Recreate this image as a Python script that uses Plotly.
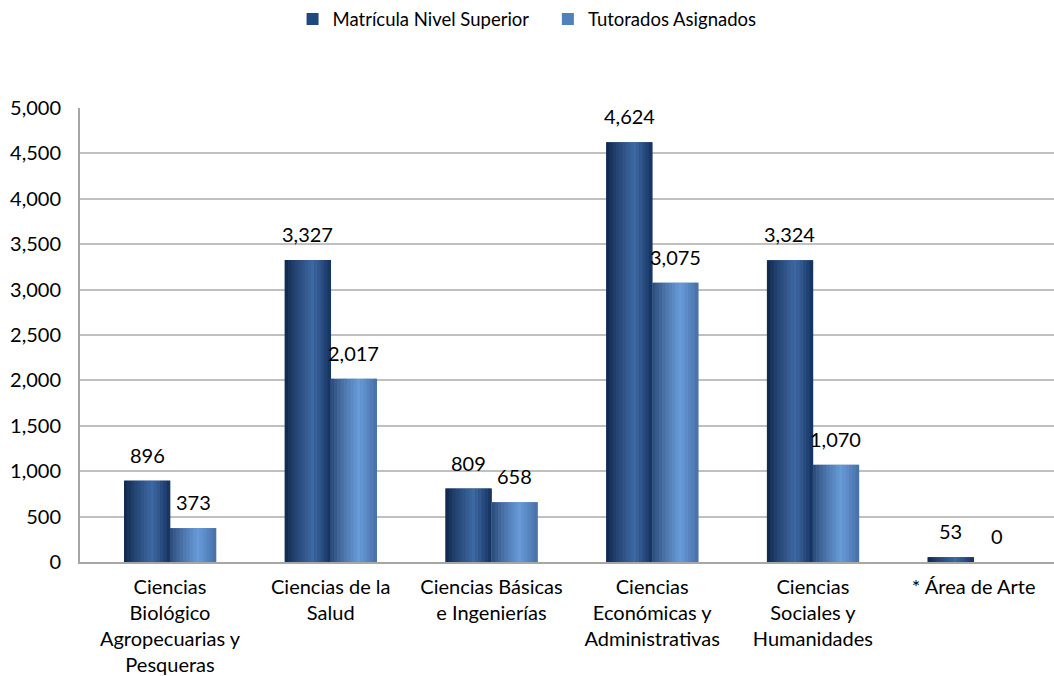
import plotly.graph_objects as go

categorias = [
    "Ciencias<br>Biológico<br>Agropecuarias y<br>Pesqueras",
    "Ciencias de la<br>Salud",
    "Ciencias Básicas<br>e Ingenierías",
    "Ciencias<br>Económicas y<br>Administrativas",
    "Ciencias<br>Sociales y<br>Humanidades",
    "* Área de Arte",
]
matricula = [896, 3327, 809, 4624, 3324, 53]
tutorados = [373, 2017, 658, 3075, 1070, 0]

FONT = "Lato"
bar_w = 0.286
n_strips = 14


def mix(c1, c2, t):
    return "rgb(%d,%d,%d)" % tuple(round(a + (b - a) * t) for a, b in zip(c1, c2))


def shade(k, edge_l, edge_r, high):
    # cylinder-like shading: dark edges, highlight at ~60% across
    t = (k + 0.5) / n_strips
    peak = 0.6
    if t <= peak:
        return mix(edge_l, high, (t / peak) ** 0.8)
    return mix(high, edge_r, ((t - peak) / (1 - peak)) ** 1.2)


series = [
    ("Matrícula Nivel Superior" + "\u00a0" * 3, matricula, "#1f497d",
     (14, 36, 70), (20, 48, 92), (62, 104, 162)),
    ("Tutorados Asignados", tutorados, "#4f81bd",
     (40, 70, 115), (70, 110, 165), (104, 154, 216)),
]

fig = go.Figure()
for s, (name, vals, col, el, er, hi) in enumerate(series):
    base_off = -bar_w + s * bar_w
    fig.add_trace(go.Bar(
        x=categorias, y=vals, name=name,
        marker=dict(color=col, line=dict(width=0)),
        width=bar_w, offset=base_off,
    ))
    for k in range(n_strips):
        fig.add_trace(go.Bar(
            x=categorias, y=vals, showlegend=False, hoverinfo="skip",
            marker=dict(color=shade(k, el, er, hi), line=dict(width=0)),
            width=bar_w / n_strips + 0.002,
            offset=base_off + k * bar_w / n_strips,
        ))
    # value labels above each bar
    for cat, v in zip(categorias, vals):
        fig.add_annotation(
            x=cat, y=v, text=f"{v:,}", showarrow=False,
            xshift=(-23 if s == 0 else 23), yshift=26, yanchor="middle",
            font=dict(family=FONT, size=20, color="#000000"),
        )

fig.update_layout(
    width=1054, height=676,
    barmode="overlay",
    plot_bgcolor="white", paper_bgcolor="white",
    margin=dict(l=80, r=0, t=108, b=114, autoexpand=False),
    font=dict(family=FONT, size=20, color="#000000"),
    legend=dict(orientation="h", x=0.459, xanchor="center", y=1.195, yanchor="middle",
                font=dict(family=FONT, size=18.5), itemwidth=30),
    xaxis=dict(range=[-0.56, 5.5], showline=True, linecolor="#a6a6a6", linewidth=2,
               showgrid=False, tickfont=dict(family=FONT, size=20), ticks="",
               ticklabelstandoff=6, automargin=False),
    yaxis=dict(range=[0, 5000], dtick=500, tickformat=",", showline=True,
               linecolor="#a6a6a6", linewidth=2, gridcolor="#c0c0c0", gridwidth=2,
               zeroline=False, tickfont=dict(family=FONT, size=20), ticks="",
               ticklabelstandoff=13, automargin=False),
)

fig.write_html("out.html", config={"displayModeBar": False},
               post_script="document.body.style.margin='0';")
